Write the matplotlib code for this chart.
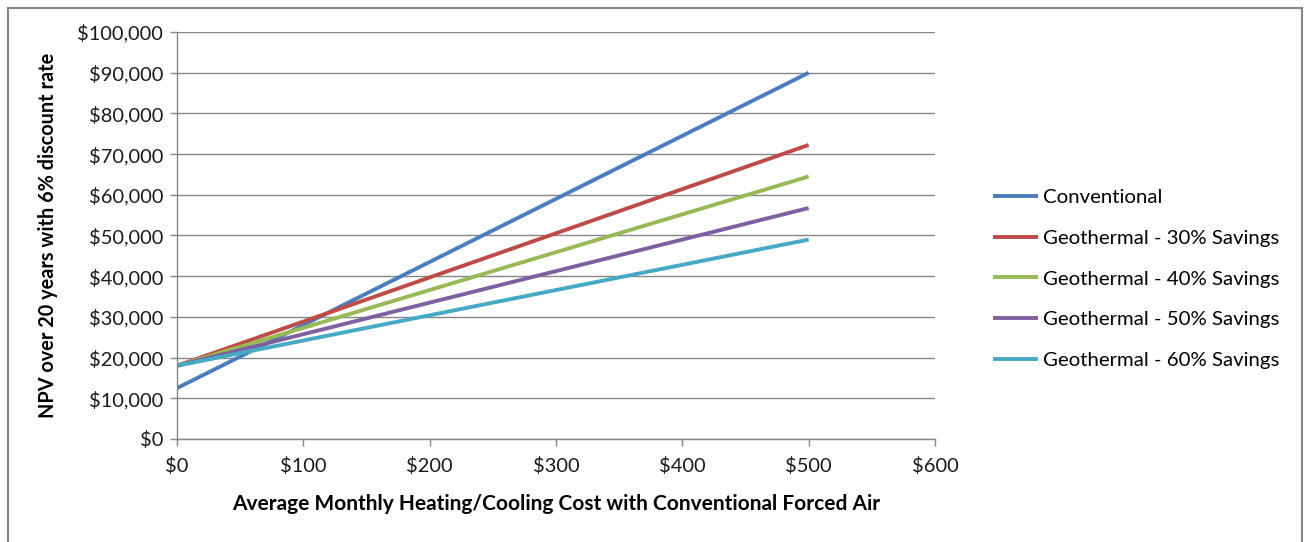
import matplotlib
matplotlib.use("Agg")
import matplotlib.pyplot as plt
from matplotlib.patches import Rectangle
from matplotlib.ticker import FuncFormatter, MultipleLocator

# Data
monthly_cost = [0, 100, 200, 300, 400, 500]
conventional = [12500, 28000, 43500, 59000, 74500, 90000]
geo_30 = [18000, 28850, 39700, 50550, 61400, 72250]
geo_40 = [18000, 27300, 36600, 45900, 55200, 64500]
geo_50 = [18000, 25750, 33500, 41250, 49000, 56750]
geo_60 = [18000, 24200, 30400, 36600, 42800, 49000]
series_names = ["Conventional", "Geothermal - 30% Savings", "Geothermal - 40% Savings",
                "Geothermal - 50% Savings", "Geothermal - 60% Savings"]
series_values = [conventional, geo_30, geo_40, geo_50, geo_60]
colors = ["#4A7EBB", "#BE4B48", "#98B954", "#7D60A0", "#46AAC5"]

plt.rcParams['font.family'] = ['Lato', 'DejaVu Sans']

fig = plt.figure(figsize=(13.04, 5.42), dpi=100)
ax = fig.add_axes([177/1304, 1-439/542, (935-177)/1304, (439-32)/542])

for name, vals, c in zip(series_names, series_values, colors):
    ax.plot(monthly_cost, vals, color=c, lw=2.8, label=name, solid_capstyle='butt')

ax.set_xlim(0, 600)
ax.set_ylim(0, 100000)
ax.xaxis.set_major_locator(MultipleLocator(100))
ax.yaxis.set_major_locator(MultipleLocator(10000))
ax.xaxis.set_major_formatter(FuncFormatter(lambda v, p: f"${v:,.0f}"))
ax.yaxis.set_major_formatter(FuncFormatter(lambda v, p: f"${v:,.0f}"))

gray = "#868686"
ax.grid(axis='y', color=gray, lw=1.0)
ax.set_axisbelow(True)
for s in ['top', 'right']:
    ax.spines[s].set_visible(False)
for s in ['left', 'bottom']:
    ax.spines[s].set_color(gray)
    ax.spines[s].set_linewidth(1.0)
ax.tick_params(axis='both', colors=gray, labelcolor='#1a1a1a', labelsize=14.4,
               length=5, width=1.0, direction='out')
ax.tick_params(axis='x', pad=8)
ax.tick_params(axis='y', pad=5)

ax.set_xlabel("Average Monthly Heating/Cooling Cost with Conventional Forced Air",
              fontsize=15, fontweight='bold', labelpad=14)
ax.set_ylabel("NPV over 20 years with 6% discount rate", fontsize=14.3,
              fontweight='bold', labelpad=14)

leg = fig.legend(loc='upper left', bbox_to_anchor=(985/1304, 1-181/542), frameon=False,
                 fontsize=14.7, handlelength=2.2, handletextpad=0.25, labelspacing=1.14,
                 borderaxespad=0)

fig.patches.append(Rectangle((8/1304, -0.05), (1302-8)/1304, 1.05-8/542,
                             transform=fig.transFigure, fill=False,
                             edgecolor=gray, lw=1.5))

fig.savefig("out.png", dpi=100)
